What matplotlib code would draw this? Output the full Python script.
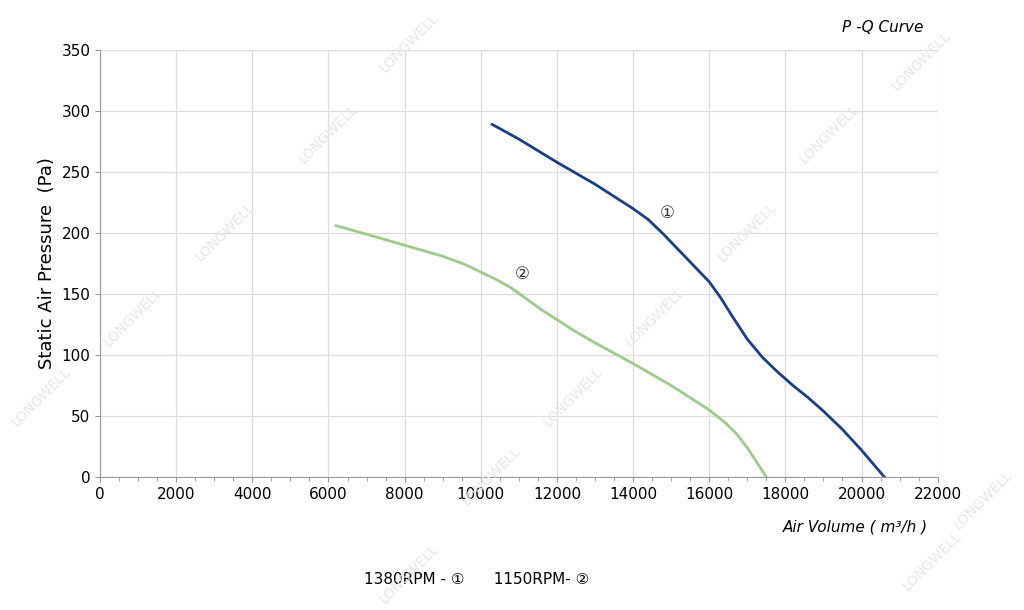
import matplotlib.pyplot as plt
from matplotlib.ticker import MultipleLocator

FONTS = ["DejaVu Sans", "Noto Sans CJK SC"]

q1 = [10300, 11000, 12000, 13000, 14000, 14400, 14800, 15200, 15600, 16000, 16300, 16600,
      17000, 17400, 17800, 18200, 18600, 19000, 19500, 20000, 20600]
p1 = [289, 277, 258, 240, 220, 211, 199, 186, 173, 160, 147, 132,
      113, 98, 86, 75, 65, 54, 39, 22, 0]
q2 = [6200, 7000, 8000, 9000, 9600, 10000, 10400, 10800, 11200, 11600, 12000, 12500, 13000,
      14000, 15000, 15600, 16000, 16400, 16700, 17000, 17250, 17500]
p2 = [206, 199, 190, 181, 174, 168, 162, 155, 146, 137, 129, 119, 110,
      93, 75, 63, 55, 45, 36, 24, 12, 0]

fig = plt.figure(figsize=(10.24, 6.10), dpi=100)
ax = fig.add_axes([0.0977, 0.218, 0.818, 0.700])

ax.plot(q1, p1, color="#1a3f85", lw=2)
ax.plot(q2, p2, color="#9ccb8a", lw=2)
ax.text(14700, 212, "①", fontsize=12, color="#333333", family=FONTS)
ax.text(10900, 162, "②", fontsize=12, color="#333333", family=FONTS)

ax.set_xlim(0, 22000)
ax.set_ylim(0, 350)
ax.xaxis.set_major_locator(MultipleLocator(2000))
ax.xaxis.set_minor_locator(MultipleLocator(500))
ax.yaxis.set_major_locator(MultipleLocator(50))
ax.grid(True, which="major", color="#dcdcdc", lw=0.9)
ax.set_axisbelow(True)
for s in ["top", "right"]:
    ax.spines[s].set_visible(False)
ax.spines["left"].set_color("#999999")
ax.spines["bottom"].set_color("#999999")
ax.tick_params(which="both", colors="#999999", labelcolor="black", labelsize=11)
ax.tick_params(which="minor", length=3)
ax.set_ylabel("Static Air Pressure  (Pa)", fontsize=13)

fig.text(0.902, 0.948, "P -Q Curve", style="italic", ha="right", fontsize=11)
fig.text(0.906, 0.128, "Air Volume ( m³/h )", style="italic", ha="right", fontsize=11)
fig.text(0.355, 0.043, "1380RPM - ①      1150RPM- ②", fontsize=11, family=FONTS)

for x, y in [(0.04, 0.35), (0.13, 0.48), (0.22, 0.62), (0.32, 0.78), (0.40, 0.93),
             (0.48, 0.22), (0.56, 0.35), (0.64, 0.48), (0.73, 0.62), (0.81, 0.78),
             (0.90, 0.90), (0.40, 0.06), (0.91, 0.08), (0.96, 0.18)]:
    fig.text(x, y, "LONGWELL", rotation=45, color="#e6e6e6", fontsize=10, ha="center", va="center")

fig.savefig("out.png", dpi=100)
